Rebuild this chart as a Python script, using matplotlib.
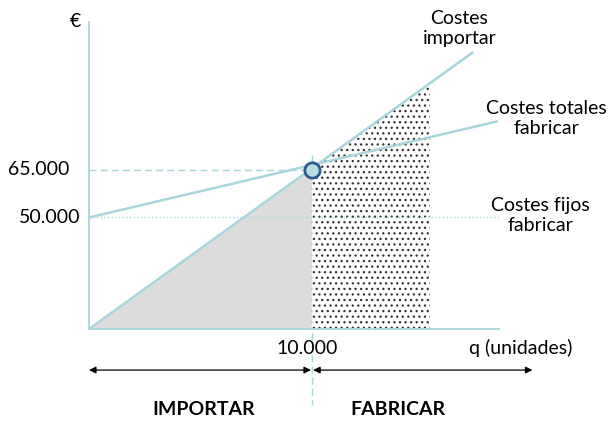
import matplotlib
matplotlib.use('Agg')
import matplotlib.pyplot as plt
import numpy as np

############# DATA #############
q_break = 10000          # punto muerto [unidades]
cost_break = 65000       # coste en el punto muerto [EUR]
fixed_cost = 50000       # costes fijos fabricar [EUR]

q_import = [0, 17200]               # costes importar
c_import = [14800, 102000]
q_total = [0, 18300]                # costes totales fabricar
c_total = [50000, 80300]
q_fixed = [0, 18400]                # costes fijos fabricar
c_fixed = [fixed_cost, fixed_cost]
q_fab_end = 15300                   # fin zona punteada

q_lim = (0, 18400)
c_lim = (14800, 111700)

# colores
teal = '#a6d6db'
gray_fill = '#dcdcdc'

plt.rcParams['font.family'] = ['Lato', 'DejaVu Sans']
fs = 14

fig = plt.figure(figsize=(6.11, 4.23), dpi=100)
ax = fig.add_axes([89 / 611, (423 - 329) / 423, (499 - 89) / 611, (329 - 22) / 423])
ax.set_xlim(*q_lim)
ax.set_ylim(*c_lim)
for s in ['top', 'right']:
    ax.spines[s].set_visible(False)
for s in ['left', 'bottom']:
    ax.spines[s].set_color(teal)
    ax.spines[s].set_linewidth(1.3)
ax.set_xticks([])
ax.set_yticks([])

# zonas
qg = np.array([0, q_break])
ax.fill_between(qg, np.interp(qg, q_import, c_import), c_lim[0], color=gray_fill, lw=0, zorder=1)
qf = np.array([q_break, q_fab_end])
plt.rcParams['hatch.linewidth'] = 0.9
ax.fill_between(qf, np.interp(qf, q_import, c_import), c_lim[0], facecolor='white',
                edgecolor='#333333', hatch='...', lw=0, zorder=1)

# lineas de referencia
ax.plot([0, q_break], [cost_break, cost_break], ls=(0, (5, 3)), color=teal, lw=1, zorder=2)
ax.plot([q_break, q_break], [69700, -9200], ls=(0, (5, 3)), color=teal, lw=1, zorder=0.5,
        clip_on=False)

# lineas de costes
ax.plot(q_fixed, c_fixed, ls=':', color=teal, lw=1, zorder=3)
ax.plot(q_total, c_total, color=teal, lw=1.8, zorder=3)
ax.plot(q_import, c_import, color=teal, lw=1.8, zorder=3)
ax.plot([q_break], [cost_break], 'o', ms=11, mfc='#b9dfe2', mec='#2f5c8f', mew=2, zorder=5)

# flechas
arr = dict(arrowstyle='<|-|>', color='black', lw=0.9, mutation_scale=10, shrinkA=0, shrinkB=0)
ax.annotate('', xy=(0, 1840), xytext=(q_break - 40, 1840), arrowprops=arr, annotation_clip=False)
ax.annotate('', xy=(q_break + 60, 1840), xytext=(19900, 1840), arrowprops=arr, annotation_clip=False)

# textos
kw = dict(fontsize=fs, clip_on=False)
ax.text(-630, 111700, '€', ha='center', va='center', **kw)
ax.text(-900, cost_break, '65.000', ha='right', va='center', **kw)
ax.text(-405, fixed_cost, '50.000', ha='right', va='center', **kw)
ax.text(9780, 8790, '10.000', ha='center', va='center', **kw)
ax.text(19370, 8790, 'q (unidades)', ha='center', va='center', **kw)
ax.text(5135, -10480, 'IMPORTAR', ha='center', va='center', fontweight='bold', **kw)
ax.text(13875, -10480, 'FABRICAR', ha='center', va='center', fontweight='bold', **kw)
ax.text(16620, 109700, 'Costes\nimportar', ha='center', va='center', linespacing=1.2, **kw)
ax.text(20540, 81260, 'Costes totales\nfabricar', ha='center', va='center', linespacing=1.2, **kw)
ax.text(20270, 50630, 'Costes fijos\nfabricar', ha='center', va='center', linespacing=1.2, **kw)

fig.savefig('out.png', dpi=100)
